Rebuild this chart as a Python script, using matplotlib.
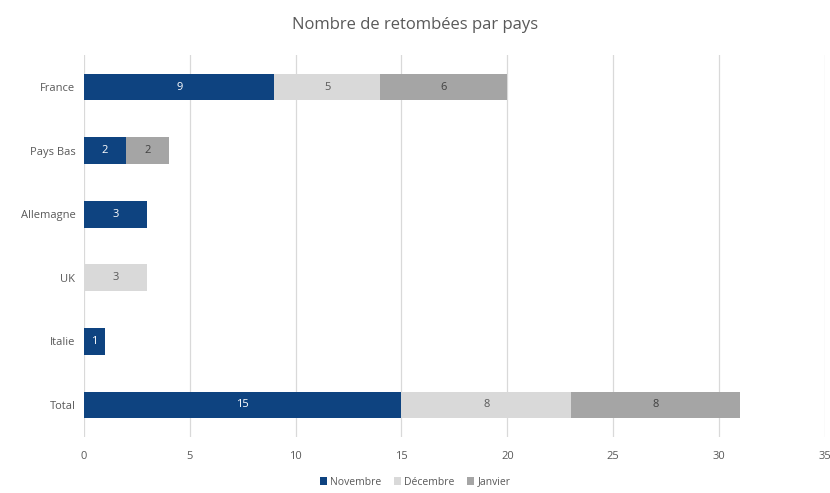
import numpy as np
import matplotlib.pyplot as plt

plt.rcParams['font.family'] = ['Open Sans', 'DejaVu Sans']

# data
pays = ["France", "Pays Bas", "Allemagne", "UK", "Italie", "Total"]
novembre = [9, 2, 3, 0, 1, 15]
decembre = [5, 0, 0, 3, 0, 8]
janvier = [6, 2, 0, 0, 0, 8]

series = [("Novembre", novembre, "#0E4380", "white"),
          ("Décembre", decembre, "#D9D9D9", "#595959"),
          ("Janvier", janvier, "#A5A5A5", "#404040")]

fig = plt.figure(figsize=(8.3, 4.93), dpi=100)
ax = fig.add_axes([0.101, 0.114, 0.893, 0.774])

y = np.arange(len(pays))
left = np.zeros(len(pays))
for name, vals, col, tcol in series:
    vals = np.array(vals, dtype=float)
    bars = ax.barh(y, vals, left=left, height=0.42, color=col, label=name, zorder=3)
    for b, v in zip(bars, vals):
        if v > 0:
            ax.text(b.get_x() + b.get_width() / 2, b.get_y() + b.get_height() / 2,
                    f"{int(v)}", ha="center", va="center", color=tcol, fontsize=8, zorder=4)
    left += vals

ax.set_xlim(0, 35)
ax.set_xticks(range(0, 36, 5))
ax.set_ylim(len(pays) - 0.5, -0.5)
ax.set_yticks(y)
ax.set_yticklabels(pays)
ax.grid(axis="x", color="#D9D9D9", linewidth=0.9, zorder=0)
for s in ax.spines.values():
    s.set_visible(False)
ax.tick_params(length=0, labelsize=8, colors="#595959", pad=6)
ax.tick_params(axis="x", pad=10)

fig.suptitle("Nombre de retombées par pays", y=0.965, fontsize=12, color="#595959")
fig.legend(loc="lower center", bbox_to_anchor=(0.5, -0.008), ncol=3, frameon=False,
           fontsize=7.5, labelcolor="#595959", handlelength=0.7, handleheight=0.7,
           columnspacing=1.2, handletextpad=0.3)

fig.savefig("out.png", dpi=100)
